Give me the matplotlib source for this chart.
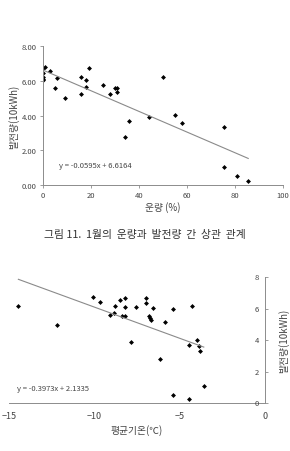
import numpy as np
import matplotlib
matplotlib.use('Agg')
import matplotlib.pyplot as plt

plt.rcParams['font.family'] = ['Noto Sans CJK KR', 'DejaVu Sans']

# Fig. 11 data: cloud cover (%) vs generation (10kWh)
cloud = [0, 0, 0, 0, 0, 1, 3, 6, 5, 9, 16, 16, 18, 18, 19, 25, 28, 30, 31, 31,
         34, 36, 44, 50, 55, 58, 75.5, 75.5, 81, 85.5]
gen_cloud = [6.73, 6.46, 6.21, 6.12, 6.02, 6.79, 6.56, 6.15, 5.60, 5.02, 6.21, 5.21,
             6.06, 5.62, 6.71, 5.73, 5.21, 5.58, 5.58, 5.38, 2.79, 3.69, 3.92, 6.21,
             4.02, 3.56, 3.33, 1.06, 0.50, 0.23]
fit_cloud = [-0.0595, 6.6164]

# average temperature (C) vs generation
temp = [-14.45, -12.17, -10.08, -9.69, -9.08, -8.87, -8.79, -8.48, -8.38, -8.18,
        -8.18, -8.18, -7.87, -7.58, -6.99, -6.99, -6.78, -6.76, -6.70, -6.58,
        -6.17, -5.88, -5.37, -5.37, -4.47, -4.47, -4.28, -3.98, -3.87, -3.79, -3.59]
gen_temp = [6.18, 4.99, 6.75, 6.45, 5.63, 5.71, 6.20, 6.54, 5.56, 5.56, 6.69, 6.11,
            3.91, 6.11, 6.69, 6.39, 5.54, 5.39, 5.27, 6.03, 2.80, 5.18, 5.99, 0.51,
            3.69, 0.23, 6.20, 4.01, 3.61, 3.33, 1.06]
fit_temp = [-0.3973, 2.1335]

axis_col = '#8c8c8c'
text_col = '#444444'
line_col = '#8a8a8a'

fig = plt.figure(figsize=(2.9, 4.52), dpi=100)

# top chart
ax1 = fig.add_axes([0.148, 0.5885, 0.828, 0.3075])
ax1.plot(cloud, gen_cloud, 'D', color='black', markersize=2.5, markeredgewidth=0)
xs = np.array([min(cloud), max(cloud)])
ax1.plot(xs, fit_cloud[0] * xs + fit_cloud[1], color=line_col, linewidth=0.8)
ax1.set_xlim(0, 100)
ax1.set_ylim(0, 8)
ax1.set_xticks([0, 20, 40, 60, 80, 100])
ax1.set_yticks([0, 2, 4, 6, 8])
ax1.set_yticklabels(['{:.2f}'.format(v) for v in [0, 2, 4, 6, 8]])
for s in ['top', 'right']:
    ax1.spines[s].set_visible(False)
for s in ['left', 'bottom']:
    ax1.spines[s].set_color(axis_col)
    ax1.spines[s].set_linewidth(0.7)
ax1.tick_params(labelsize=5.5, colors=axis_col, labelcolor=text_col, length=2.5, width=0.6, pad=2)
ax1.set_xlabel('운량 (%)', fontsize=7, color=text_col, labelpad=1)
ax1.set_ylabel('발전량(10kWh)', fontsize=7, color=text_col, labelpad=2)
ax1.text(6.7, 1.17, 'y = -0.0595x + 6.6164', fontsize=5.5, color=text_col, va='center')

fig.text(0.5, 1 - 235 / 452, '그림 11.  1월의  운량과  발전량  간  상관  관계',
         fontsize=7.8, color='#333333', ha='center', va='center')

# bottom chart
ax2 = fig.add_axes([0.031, 0.1062, 0.883, 0.278])
ax2.plot(temp, gen_temp, 'D', color='black', markersize=2.5, markeredgewidth=0)
xs = np.array([min(temp), max(temp)])
ax2.plot(xs, fit_temp[0] * xs + fit_temp[1], color=line_col, linewidth=0.8)
ax2.set_xlim(-15, 0)
ax2.set_ylim(0, 8)
ax2.set_xticks([-15, -10, -5, 0])
ax2.set_yticks([0, 2, 4, 6, 8])
ax2.spines['top'].set_visible(False)
ax2.spines['left'].set_visible(False)
ax2.spines['right'].set_color(axis_col)
ax2.spines['right'].set_linewidth(0.7)
ax2.spines['bottom'].set_color(axis_col)
ax2.spines['bottom'].set_linewidth(0.7)
ax2.yaxis.set_ticks_position('right')
ax2.tick_params(axis='y', direction='out', labelright=False, labelleft=False)
ax2.tick_params(labelsize=5.5, colors=axis_col, labelcolor=text_col, length=2.5, width=0.6, pad=2)
ax2.tick_params(axis='x', length=0, labelsize=6.5, pad=6)
for v in [0, 2, 4, 6, 8]:
    ax2.text(-0.35, v, str(v), fontsize=5.5, color=text_col, ha='right', va='center')
ax2.set_xlabel('평균기온(℃)', fontsize=7, color=text_col, labelpad=3)
ax2.yaxis.set_label_position('right')
ax2.set_ylabel('발전량(10kWh)', fontsize=7, color=text_col, rotation=90, labelpad=7)
ax2.text(-14.55, 0.93, 'y = -0.3973x + 2.1335', fontsize=5.5, color=text_col, va='center')

fig.savefig('out.png', dpi=100, facecolor='white')
